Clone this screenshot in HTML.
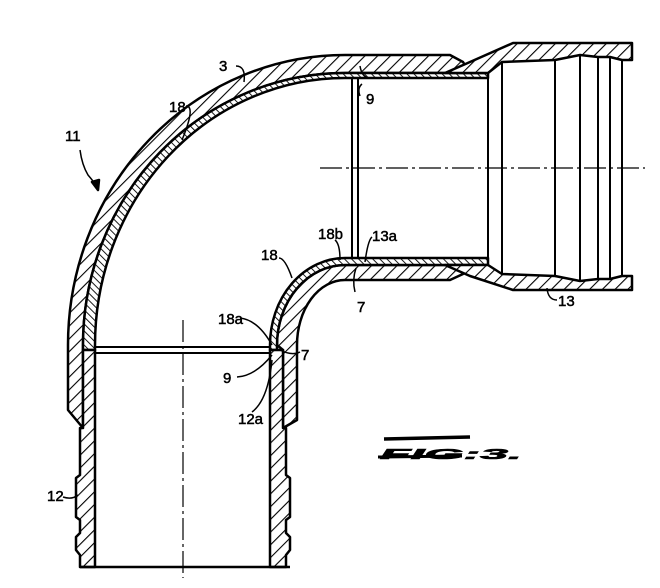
<!DOCTYPE html>
<html><head><meta charset="utf-8"><style>
html,body{margin:0;padding:0;background:#fff}
svg{display:block}
text{font-family:"Liberation Sans",sans-serif;font-size:15px;fill:#000}
</style></head><body>
<svg width="660" height="588" viewBox="0 0 660 588" xmlns="http://www.w3.org/2000/svg">
<defs>
<pattern id="h" width="9" height="9" patternUnits="userSpaceOnUse" patternTransform="rotate(45)">
<rect width="9" height="9" fill="#fff"/><line x1="0" y1="0" x2="0" y2="9" stroke="#000" stroke-width="2.2"/></pattern>
<pattern id="l" width="5" height="5" patternUnits="userSpaceOnUse" patternTransform="rotate(-45)">
<rect width="5" height="5" fill="#fff"/><line x1="0" y1="0" x2="0" y2="5" stroke="#000" stroke-width="1.8"/></pattern>
</defs>
<g stroke="#000" stroke-width="2.5" stroke-linejoin="round">
<path fill="url(#h)" d="M68 410 L68 345 A277 290 0 0 1 345 55 L450 55 L463 62 L470 73 L345 73 A262 272 0 0 0 83 345 L83 428 Z"/>
<path fill="url(#l)" d="M83 350 L83 345 A262 272 0 0 1 345 73 L488 73 L488 78 L345 78 A250 267 0 0 0 95 345 L95 350 Z"/>
<path fill="url(#h)" d="M297 420 L297 345 A48 65 0 0 1 345 280 L450 280 L463 274 L470 265 L345 265 A68 80 0 0 0 277 345 L283 350 L283 428 Z"/>
<path fill="url(#l)" d="M270 350 L270 345 A75 87 0 0 1 345 258 L488 258 L488 265 L345 265 A68 80 0 0 0 277 345 L277 350 Z"/>
<path fill="url(#h)" d="M83 350 L95 350 L95 567 L80 567 L80 555 L76 550 L76 537 L80 533 L80 520 L76 517 L76 478 L80 475 L80 428 L83 428 Z"/>
<path fill="url(#h)" d="M270 350 L283 350 L283 428 L286 428 L286 475 L290 478 L290 517 L286 520 L286 533 L290 537 L290 550 L286 555 L286 567 L270 567 Z"/>
<line x1="80" y1="567" x2="290" y2="567"/>
<path fill="url(#h)" d="M445 73 L470 62 L513 43 L632 43 L632 60 L622 60 L610 57 L598 57 L580 55 L555 60 L502 62 L488 73 Z"/>
<path fill="url(#h)" d="M445 265 L470 276 L513 290 L632 290 L632 276 L622 276 L610 279 L598 279 L580 281 L555 276 L502 274 L488 265 Z"/>
<g fill="none" stroke-width="2">
<line x1="488" y1="73" x2="488" y2="265"/>
<line x1="502" y1="62" x2="502" y2="274"/>
<line x1="555" y1="60" x2="555" y2="276"/>
<line x1="580" y1="55" x2="580" y2="281"/>
<line x1="598" y1="57" x2="598" y2="279"/>
<line x1="610" y1="57" x2="610" y2="279"/>
<line x1="622" y1="60" x2="622" y2="276"/>
<line x1="352" y1="78" x2="352" y2="258"/>
<line x1="358" y1="78" x2="358" y2="258"/>
<line x1="95" y1="347" x2="270" y2="347"/>
<line x1="95" y1="353" x2="270" y2="353"/>
</g>
<g fill="none" stroke-width="1.2" stroke-dasharray="22 4 3 4">
<line x1="320" y1="168" x2="645" y2="168"/>
<line x1="183" y1="320" x2="183" y2="578"/>
</g>
<g fill="none" stroke-width="1.5">
<path d="M236 66 Q246 66 244 82"/>
<path d="M186 106 Q196 106 182 140"/>
<path d="M80 150 Q82 165 88 175 Q94 182 98 188"/>
<path d="M360 66 Q362 78 370 78"/>
<path d="M360 96 Q357 88 362 84"/>
<path d="M335 240 Q340 244 340 260"/>
<path d="M372 237 Q368 240 365 262"/>
<path d="M279 258 Q285 258 292 278"/>
<path d="M355 292 Q352 280 356 268"/>
<path d="M240 318 Q258 320 272 345"/>
<path d="M300 352 Q292 356 280 350"/>
<path d="M237 377 Q255 376 272 355"/>
<path d="M252 412 Q268 400 272 360"/>
<path d="M63 497 Q72 500 78 495"/>
<path d="M557 300 Q548 300 547 288"/>
</g>
<path d="M92 182 L98 190 L99 180 Z" fill="#000"/>
</g>
<g font-size="15" stroke="#000" stroke-width="0.5">
<text x="219" y="71">3</text>
<text x="169" y="112">18</text>
<text x="65" y="141">11</text>
<text x="366" y="104">9</text>
<text x="318" y="239">18b</text>
<text x="372" y="241">13a</text>
<text x="261" y="260">18</text>
<text x="357" y="312">7</text>
<text x="218" y="324">18a</text>
<text x="301" y="360">7</text>
<text x="223" y="383">9</text>
<text x="238" y="424">12a</text>
<text x="47" y="501">12</text>
<text x="558" y="306">13</text>
</g>
<g>
<text x="380" y="459" font-size="24" font-weight="bold" font-style="italic" stroke="#000" stroke-width="0.6" textLength="142" lengthAdjust="spacingAndGlyphs">FIG:3.</text>
<line x1="384" y1="439" x2="470" y2="437" stroke="#000" stroke-width="3.5"/>
<line x1="378" y1="457" x2="462" y2="456" stroke="#000" stroke-width="3"/>
</g>
</svg>
</body></html>
